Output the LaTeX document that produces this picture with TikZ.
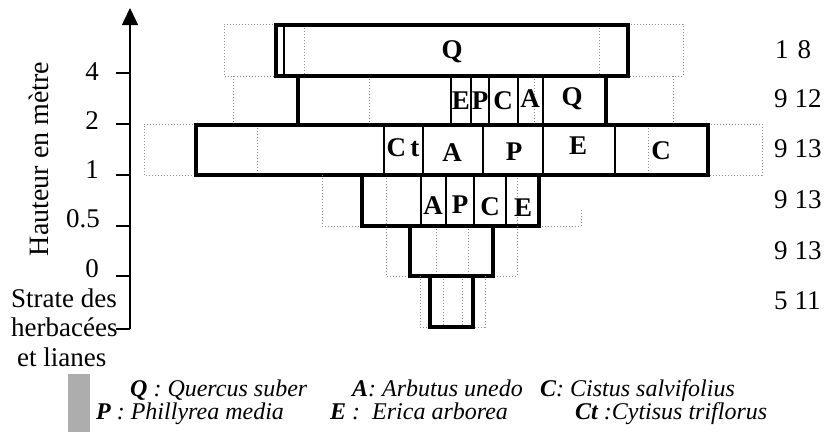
\documentclass[tikz,border=0pt]{standalone}
\usepackage{fontspec}
\setmainfont{Liberation Serif}
\usetikzlibrary{arrows.meta}
\begin{document}
\begin{tikzpicture}[x=1pt,y=-1pt,
  stratum/.style={line width=3.1pt, line join=miter},
  divider/.style={line width=2.8pt},
  extent/.style={draw=black!45, line width=1pt, dotted},
  sp/.style={font=\fontsize{27}{27}\selectfont\bfseries, inner sep=0pt},
  ticklab/.style={font=\fontsize{27}{27}\selectfont, anchor=east, inner sep=0pt},
  count/.style={font=\fontsize{27}{27}\selectfont, anchor=west, inner sep=0pt},
  axtext/.style={font=\fontsize{27}{27}\selectfont, anchor=base west, inner sep=0pt},
  legend/.style={font=\fontsize{24}{24}\selectfont\itshape, anchor=base west, inner sep=0pt}]
\useasboundingbox (0,0) rectangle (828,432);

% vertical axis with its ticks
\draw[line width=1.5pt, -{Triangle[length=17pt,width=16pt]}] (130,329) -- (130,8);
\foreach \yy in {73,124,175,226,276,329}
  \draw[line width=1.5pt] (116,\yy) -- (130,\yy);
\node[ticklab] (t4) at (99,72) {4};
\node[ticklab] (t2) at (99,121) {2};
\node[ticklab] (t1) at (99,170) {1};
\node[ticklab] (t05) at (100,219) {0.5};
\node[ticklab] (t0) at (99,269) {0};
\node[font=\fontsize{28}{28}\selectfont, rotate=90, inner sep=0pt] (title) at (39,159) {Hauteur en mètre};
\node[axtext] (herb1) at (11,307) {Strate des};
\node[axtext] (herb2) at (11,336) {herbacées};
\node[axtext] (herb3) at (17,366) {et lianes};

% stratum 1 (above 4 m)
\draw[extent] (276,24) -- (224,24) -- (224,76) -- (276,76);
\draw[extent] (628,24) -- (683,24) -- (683,76) -- (628,76);
\draw[extent] (304,25) -- (304,76);
\draw[extent] (599,25) -- (599,76);
\draw[stratum] (276,25) rectangle (628,76);
\draw[divider] (284,25) -- (284,76);
\node[sp] (q1) at (452,52) {Q};

% stratum 2 (2 to 4 m)
\draw[extent] (233,76) -- (233,125);
\draw[extent] (673,76) -- (673,125);
\draw[extent] (369,76) -- (369,125);
\draw[extent] (534,76) -- (534,125);
\draw[stratum] (298,76) rectangle (606,125);
\foreach \xx in {451,471,489,518,543}
  \draw[divider] (\xx,76) -- (\xx,125);
\node[sp] (e2) at (461,101) {E};
\node[sp] (p2) at (480,101) {P};
\node[sp] (c2) at (503,101) {C};
\node[sp] (a2) at (530,99) {A};
\node[sp] (q2) at (572,99) {Q};

% stratum 3 (1 to 2 m)
\draw[extent] (196,124) -- (144,124) -- (144,175) -- (196,175);
\draw[extent] (708,124) -- (762,124) -- (762,175) -- (708,175);
\draw[extent] (257,125) -- (257,175);
\draw[extent] (648,125) -- (648,175);
\draw[stratum] (196,125) rectangle (708,175);
\foreach \xx in {384,423,483,543,615}
  \draw[divider] (\xx,125) -- (\xx,175);
\node[sp] (ct3) at (403,148) {C\,t};
\node[sp] (a3) at (452,153) {A};
\node[sp] (p3) at (514,152) {P};
\node[sp] (e3) at (578,146) {E};
\node[sp] (c3) at (661,151) {C};

% stratum 4 (0.5 to 1 m)
\draw[extent] (322,175) -- (322,226) -- (362,226);
\draw[extent] (539,226) -- (581,226) -- (581,208);
\draw[extent] (386,175) -- (386,226);
\draw[extent] (517,175) -- (517,226);
\draw[stratum] (362,175) rectangle (539,226);
\foreach \xx in {421,446,474,506}
  \draw[divider] (\xx,175) -- (\xx,226);
\node[sp] (a4) at (433,206) {A};
\node[sp] (p4) at (460,205) {P};
\node[sp] (c4) at (490,207) {C};
\node[sp] (e4) at (523,208) {E};

% stratum 5 (0 to 0.5 m)
\draw[extent] (386,226) -- (386,276) -- (410,276);
\draw[extent] (517,226) -- (517,276) -- (493,276);
\draw[extent] (436,226) -- (436,276);
\draw[extent] (468,226) -- (468,276);
\draw[stratum] (410,226) rectangle (493,276);

% herbaceous and climbing stratum
\draw[extent] (420,276) -- (420,327) -- (430,327);
\draw[extent] (485,276) -- (485,327) -- (473,327);
\draw[extent] (443,276) -- (443,327);
\draw[extent] (462,276) -- (462,327);
\draw[stratum] (430,276) rectangle (473,327);

% counts per stratum
\node[count] (n1) at (775,50) {1\hspace{9pt}8};
\node[count] (n2) at (774,99) {9\hspace{7pt}12};
\node[count] (n3) at (774,149) {9\hspace{7pt}13};
\node[count] (n4) at (774,200) {9\hspace{7pt}13};
\node[count] (n5) at (774,251) {9\hspace{7pt}13};
\node[count] (n6) at (774,301) {5\hspace{7pt}11};

% legend
\fill[black!32] (68,374) rectangle (90,432);
\node[legend] (lq) at (130,396) {\textbf{Q} : Quercus suber};
\node[legend] (la) at (352,396) {\textbf{A}: Arbutus unedo};
\node[legend] (lc) at (540,396) {\textbf{C}: Cistus salvifolius};
\node[legend] (lp) at (96,419) {\textbf{P} : Phillyrea media};
\node[legend] (le) at (330,419) {\textbf{E} :\ \ Erica arborea};
\node[legend] (lct) at (575,419) {\textbf{Ct} :Cytisus triflorus};
\end{tikzpicture}
\end{document}
